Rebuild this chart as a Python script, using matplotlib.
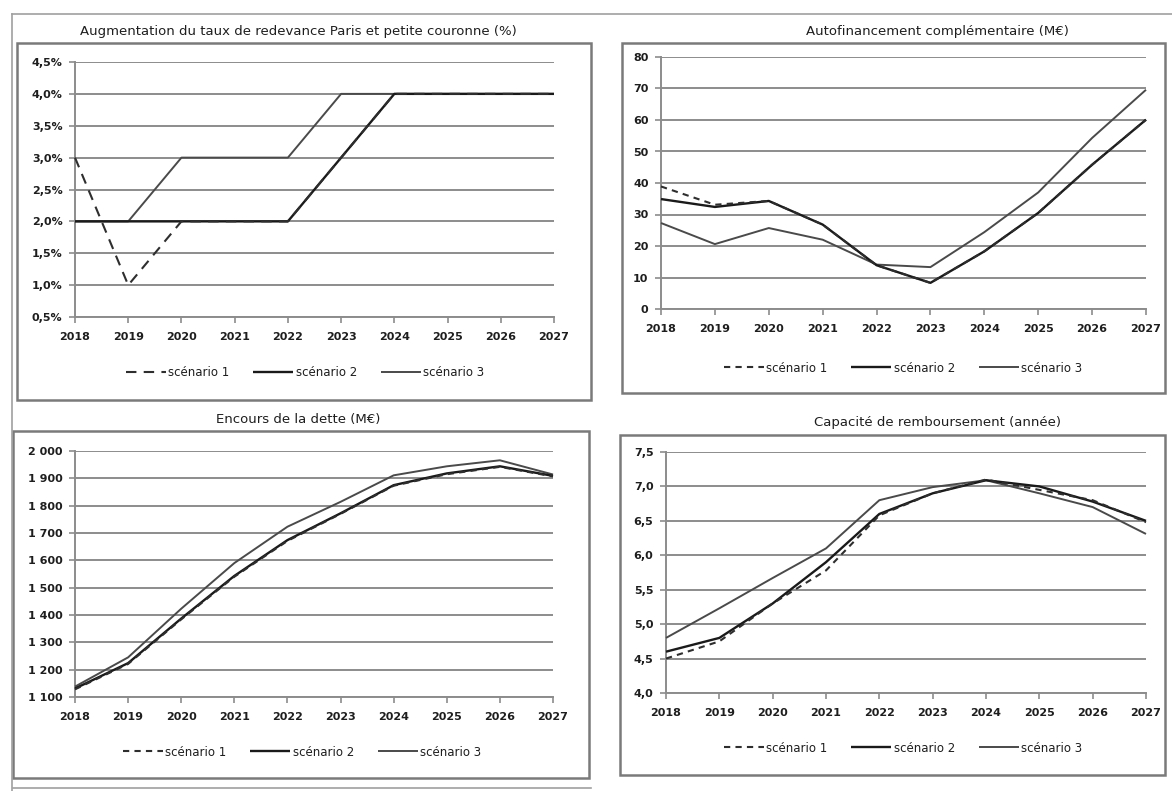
import matplotlib
matplotlib.use("Agg")
import matplotlib.pyplot as plt
from matplotlib.lines import Line2D
from matplotlib.patches import Rectangle
from matplotlib.ticker import FuncFormatter

W, H = 1172, 791

years = [2018, 2019, 2020, 2021, 2022, 2023, 2024, 2025, 2026, 2027]
series_names = ["scénario 1", "scénario 2", "scénario 3"]

# Augmentation du taux de redevance (%)
taux_s1 = [3.0, 1.0, 2.0, 2.0, 2.0, 3.0, 4.0, 4.0, 4.0, 4.0]
taux_s2 = [2.0, 2.0, 2.0, 2.0, 2.0, 3.0, 4.0, 4.0, 4.0, 4.0]
taux_s3 = [2.0, 2.0, 3.0, 3.0, 3.0, 4.0, 4.0, 4.0, 4.0, 4.0]

# Autofinancement complémentaire (M€)
autofin_s1 = [38.9, 33.1, 34.3, 26.8, 13.9, 8.3, 18.3, 30.5, 45.8, 60.1]
autofin_s2 = [34.9, 32.4, 34.3, 26.8, 13.9, 8.3, 18.3, 30.5, 45.8, 60.1]
autofin_s3 = [27.3, 20.6, 25.7, 22.0, 14.1, 13.3, 24.4, 37.0, 54.3, 69.6]

# Encours de la dette (M€)
dette_s1 = [1128, 1221, 1384, 1540, 1671, 1770, 1873, 1915, 1942, 1907]
dette_s2 = [1131, 1224, 1387, 1543, 1674, 1772, 1875, 1918, 1944, 1909]
dette_s3 = [1138, 1245, 1423, 1590, 1723, 1814, 1911, 1944, 1966, 1914]

# Capacité de remboursement (années)
capacite_s1 = [4.50, 4.75, 5.30, 5.78, 6.58, 6.90, 7.10, 6.95, 6.80, 6.48]
capacite_s2 = [4.60, 4.80, 5.30, 5.90, 6.60, 6.90, 7.09, 7.00, 6.78, 6.50]
capacite_s3 = [4.80, 5.23, 5.67, 6.10, 6.80, 6.99, 7.09, 6.90, 6.70, 6.31]

taux_ticks = [0.5, 1.0, 1.5, 2.0, 2.5, 3.0, 3.5, 4.0, 4.5]
autofin_ticks = [0, 10, 20, 30, 40, 50, 60, 70, 80]
dette_ticks = [1100, 1200, 1300, 1400, 1500, 1600, 1700, 1800, 1900, 2000]
capacite_ticks = [4.0, 4.5, 5.0, 5.5, 6.0, 6.5, 7.0, 7.5]

plt.rcParams["font.family"] = ["DejaVu Sans"]

GRID = "#8c8c8c"
TEXT = "#1e1e1e"
FRAME = "#7a7a7a"

fig = plt.figure(figsize=(W / 100, H / 100), dpi=100)
fig.patch.set_facecolor("white")


def fx(x):
    return x / W


def fy(y):
    return 1 - y / H


def hline(x0, x1, y, lw=1.6, color=FRAME):
    fig.add_artist(Line2D([fx(x0), fx(x1)], [fy(y), fy(y)], transform=fig.transFigure,
                          color=color, lw=lw))


def vline(x, y0, y1, lw=1.6, color=FRAME):
    fig.add_artist(Line2D([fx(x), fx(x)], [fy(y0), fy(y1)], transform=fig.transFigure,
                          color=color, lw=lw))


def box(x0, y0, x1, y1, lw=1.8):
    fig.add_artist(Rectangle((fx(x0), fy(y1)), fx(x1) - fx(x0), fy(y0) - fy(y1),
                             transform=fig.transFigure, fill=False,
                             edgecolor=FRAME, lw=lw))


# frames around the four charts
hline(12, 1172, 14, lw=1.2, color="#a0a0a0")
vline(12, 14, 791, lw=1.2, color="#a0a0a0")
box(17, 43, 591, 400)
box(13, 431, 589, 778)
box(622, 43, 1165, 393)
box(620, 435, 1165, 775)
hline(13, 591, 788, lw=1.2, color="#a0a0a0")


def fmt_pct(v, _):
    return f"{v:.1f}%".replace(".", ",")


def fmt_int(v, _):
    return f"{int(round(v))}"


def fmt_thousands(v, _):
    s = f"{int(round(v)):,}"
    return s.replace(",", " ")


def fmt_dec(v, _):
    return f"{v:.1f}".replace(".", ",")


panels = [
    dict(rect=(75, 554, 62, 317), data=(taux_s1, taux_s2, taux_s3), ticks=taux_ticks,
         fmt=fmt_pct, title="Augmentation du taux de redevance Paris et petite couronne (%)",
         title_xy=(298, 32), legend_xy=(305, 373), dash=(5, 3.5)),
    dict(rect=(661, 1146, 57, 309), data=(autofin_s1, autofin_s2, autofin_s3),
         ticks=autofin_ticks, fmt=fmt_int, title="Autofinancement complémentaire (M€)",
         title_xy=(937, 32), legend_xy=(903, 368), dash=(3, 2.5)),
    dict(rect=(75, 553, 451, 697), data=(dette_s1, dette_s2, dette_s3), ticks=dette_ticks,
         fmt=fmt_thousands, title="Encours de la dette (M€)",
         title_xy=(298, 419), legend_xy=(302, 752), dash=(3, 2.5)),
    dict(rect=(666, 1146, 452, 693), data=(capacite_s1, capacite_s2, capacite_s3),
         ticks=capacite_ticks, fmt=fmt_dec, title="Capacité de remboursement (année)",
         title_xy=(937, 422), legend_xy=(903, 748), dash=(3, 2.5)),
]

styles = [
    dict(color="#2e2e2e", lw=1.5, zorder=5),
    dict(color="#1a1a1a", lw=1.7, zorder=4),
    dict(color="#4a4a4a", lw=1.4, zorder=3),
]

for p in panels:
    l, r, t, b = p["rect"]
    ax = fig.add_axes([fx(l), fy(b), fx(r) - fx(l), fy(t) - fy(b)])
    ax.set_facecolor("none")
    s1, s2, s3 = p["data"]
    h3, = ax.plot(years, s3, solid_capstyle="butt", clip_on=False, **styles[2])
    h2, = ax.plot(years, s2, solid_capstyle="butt", clip_on=False, **styles[1])
    h1, = ax.plot(years, s1, linestyle=(0, p["dash"]), clip_on=False, **styles[0])

    ax.set_xlim(years[0], years[-1])
    ax.set_ylim(p["ticks"][0], p["ticks"][-1])
    ax.set_xticks(years)
    ax.set_xticklabels([str(y) for y in years])
    ax.set_yticks(p["ticks"])
    ax.yaxis.set_major_formatter(FuncFormatter(p["fmt"]))

    ax.grid(axis="y", color=GRID, lw=1.4)
    ax.set_axisbelow(True)
    for side in ("top", "right"):
        ax.spines[side].set_visible(False)
    for side in ("left", "bottom"):
        ax.spines[side].set_color(GRID)
        ax.spines[side].set_linewidth(1.4)
    ax.tick_params(axis="both", direction="out", length=4, width=1.2, color=GRID,
                   labelsize=8, labelcolor=TEXT)
    ax.tick_params(axis="x", pad=7)
    ax.tick_params(axis="y", pad=5)
    for lab in ax.get_xticklabels() + ax.get_yticklabels():
        lab.set_fontweight("bold")

    tx, ty = p["title_xy"]
    fig.text(fx(tx), fy(ty), p["title"], ha="center", va="center", fontsize=9.5,
             color=TEXT)

    lx, ly = p["legend_xy"]
    ax.legend([h1, h2, h3], series_names, loc="center", ncol=3, frameon=False,
              bbox_to_anchor=(fx(lx), fy(ly)), bbox_transform=fig.transFigure,
              handlelength=3.4, handletextpad=0.2, columnspacing=2.0,
              prop=dict(size=8.5), labelcolor=TEXT)

fig.savefig("out.png", dpi=100, facecolor="white")
